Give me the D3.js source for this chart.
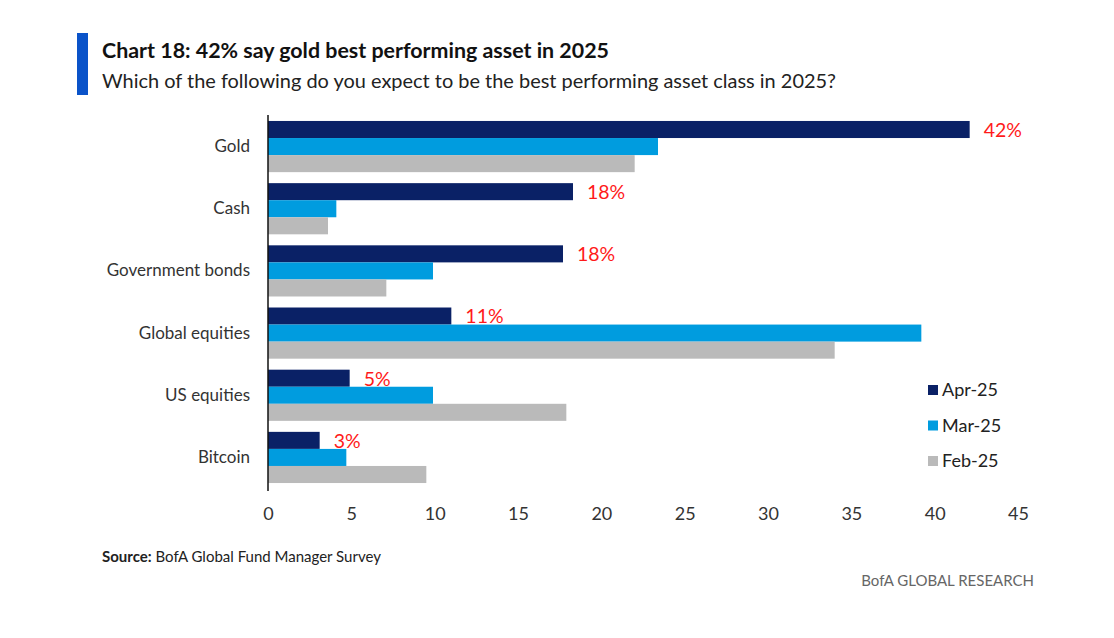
<!DOCTYPE html>
<html lang="en">
<head>
  <meta charset="UTF-8">
  <title>Chart 18</title>
  <style>
    body { margin: 0; background: #fff; }
    text { font-family: Lato, "Open Sans", sans-serif; }
  </style>
</head>
<body>
  <div id="main"></div>
  <script src="https://cdn.jsdelivr.net/npm/d3@7"></script>
  <script>
    // data
    let categories = ["Gold", "Cash", "Government bonds", "Global equities", "US equities", "Bitcoin"]
    let series = ["Apr-25", "Mar-25", "Feb-25"]
    let apr = [42.1, 18.3, 17.7, 11.0, 4.9, 3.1]
    let mar = [23.4, 4.1, 9.9, 39.2, 9.9, 4.7]
    let feb = [22.0, 3.6, 7.1, 34.0, 17.9, 9.5]
    let aprLabels = ["42%", "18%", "18%", "11%", "5%", "3%"]
    let xTicks = [0, 5, 10, 15, 20, 25, 30, 35, 40, 45]

    let colors = { "Apr-25": "#0a2166", "Mar-25": "#009cdf", "Feb-25": "#bababa" }
    let values = { "Apr-25": apr, "Mar-25": mar, "Feb-25": feb }

    let svg = d3.select('#main').append('svg')
      .attr('width', 1114)
      .attr('height', 638)

    let x = d3.scaleLinear().domain([0, 45]).range([268, 1018])
    let y = d3.scaleBand().domain(categories).range([115, 489])
      .paddingInner(0.177).paddingOuter(0.096)
    let ys = d3.scaleBand().domain(series).range([0, y.bandwidth()])

    // header
    svg.append('rect')
      .attr('x', 77).attr('y', 33).attr('width', 11).attr('height', 62)
      .attr('fill', '#0a53c9')
    svg.append('text')
      .attr('x', 102).attr('y', 58)
      .attr('textLength', 507).attr('lengthAdjust', 'spacingAndGlyphs')
      .style('font-size', '21px').style('font-weight', 'bold').attr('fill', '#111')
      .text('Chart 18: 42% say gold best performing asset in 2025')
    svg.append('text')
      .attr('x', 102).attr('y', 88)
      .attr('textLength', 734).attr('lengthAdjust', 'spacingAndGlyphs')
      .style('font-size', '20px').attr('fill', '#222')
      .text('Which of the following do you expect to be the best performing asset class in 2025?')

    // bars
    let groups = svg.append('g').selectAll('g')
      .data(categories)
      .join('g')
      .attr('transform', d => `translate(0,${y(d)})`)

    groups.selectAll('rect')
      .data((d, i) => series.map(s => ({ s: s, v: values[s][i] })))
      .join('rect')
      .attr('x', x(0))
      .attr('y', d => ys(d.s))
      .attr('width', d => x(d.v) - x(0))
      .attr('height', ys.bandwidth())
      .attr('fill', d => colors[d.s])

    // red labels on Apr bars
    groups.append('text')
      .attr('x', (d, i) => x(apr[i]) + 14)
      .attr('y', ys('Apr-25') + ys.bandwidth() / 2)
      .attr('dy', '0.38em')
      .style('font-size', '19.5px')
      .attr('fill', '#ff1a1a')
      .text((d, i) => aprLabels[i])

    // category axis
    let yAxis = svg.append('g')
      .attr('transform', `translate(${x(0)},0)`)
      .call(d3.axisLeft(y).tickSize(0).tickPadding(18))
    yAxis.select('.domain').remove()
    yAxis.selectAll('text').style('font-size', '17px').attr('fill', '#333')
      .attr('font-family', 'Lato')

    svg.append('line')
      .attr('x1', x(0)).attr('x2', x(0))
      .attr('y1', 115).attr('y2', 491)
      .attr('stroke', '#111').attr('stroke-width', 1.5)

    // value axis, labels only
    let xAxis = svg.append('g')
      .attr('transform', 'translate(0,491)')
      .call(d3.axisBottom(x).tickValues(xTicks).tickSize(0).tickPadding(16))
    xAxis.select('.domain').remove()
    xAxis.selectAll('text').style('font-size', '18px').attr('fill', '#333')
      .attr('font-family', 'Lato')

    // legend
    let legend = svg.append('g').selectAll('g')
      .data(series)
      .join('g')
      .attr('transform', (d, i) => `translate(928,${390 + i * 35.5})`)
    legend.append('rect')
      .attr('x', 0).attr('y', -5).attr('width', 10).attr('height', 10)
      .attr('fill', d => colors[d])
    legend.append('text')
      .attr('x', 14).attr('dy', '0.36em')
      .style('font-size', '18px').attr('fill', '#222')
      .text(d => d)

    // footer
    let src = svg.append('text')
      .attr('x', 102).attr('y', 562)
      .style('font-size', '15px').attr('fill', '#222')
    src.append('tspan').style('font-weight', 'bold').text('Source:')
    src.append('tspan').text(' BofA Global Fund Manager Survey')

    svg.append('text')
      .attr('x', 1034).attr('y', 586)
      .attr('text-anchor', 'end')
      .style('font-size', '15px').attr('fill', '#666')
      .text('BofA GLOBAL RESEARCH')
  </script>
</body>
</html>
